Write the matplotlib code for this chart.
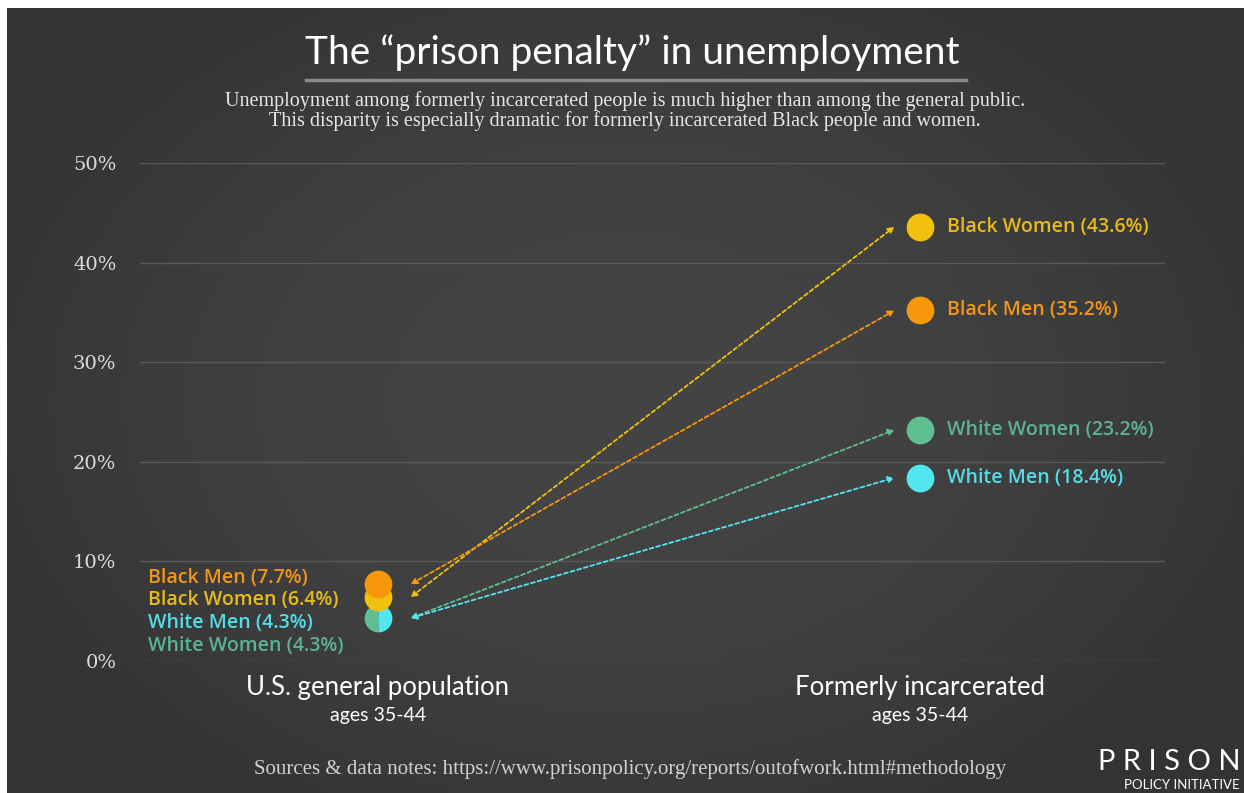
import numpy as np
import matplotlib
matplotlib.use("Agg")
import matplotlib.pyplot as plt
from matplotlib.transforms import blended_transform_factory

# data
groups = ["Black Women", "Black Men", "White Women", "White Men"]
general_pop = [6.4, 7.7, 4.3, 4.3]
formerly_inc = [43.6, 35.2, 23.2, 18.4]
colors = ["#f2c10f", "#f7970c", "#5fbf8f", "#52e6ef"]
text_colors = ["#e8bb1c", "#f0961a", "#5bb394", "#55dce6"]
left_order = ["Black Men", "Black Women", "White Men", "White Women"]
yticks = [0, 10, 20, 30, 40, 50]
cat_labels = ["U.S. general population", "Formerly incarcerated"]
sub_labels = ["ages 35-44", "ages 35-44"]

W, H = 1244, 793
fig = plt.figure(figsize=(W / 100, H / 100), dpi=100, facecolor="white")

def fx(x):
    return x / W

def fy(y):
    return 1 - y / H

# dark background with a soft vignette
bg = fig.add_axes([fx(7), 0, 1 - fx(7), 1 - 8 / H], zorder=-5)
gx, gy = np.meshgrid(np.linspace(-1, 1, 300), np.linspace(-1, 1, 200))
r = np.clip(np.sqrt((gx * 0.9) ** 2 + (gy * 0.8) ** 2), 0, 1)
c0 = np.array([0x44, 0x44, 0x44]) / 255
c1 = np.array([0x33, 0x33, 0x33]) / 255
img = c0[None, None, :] * (1 - r[..., None] ** 2) + c1[None, None, :] * r[..., None] ** 2
bg.imshow(img, aspect="auto", extent=[0, 1, 0, 1])
bg.axis("off")

# main axes
ax = fig.add_axes([fx(140), fy(661), fx(1165 - 140), (661 - 163) / H])
ax.patch.set_alpha(0)
ax.set_xlim(-0.439, 1.452)
ax.set_ylim(0, 50)
for s in ax.spines.values():
    s.set_visible(False)
ax.set_yticks(yticks)
ax.set_yticklabels([f"{t}%" for t in yticks], family="DejaVu Serif",
                   fontsize=14, color="#dcdcdc")
ax.tick_params(axis="y", length=0, pad=17)
ax.set_xticks([])
ax.yaxis.grid(True, color="#5a5a5a", lw=1)
ax.set_axisbelow(True)

# arrows
xl, xr = 0.06, 0.953
for g, a, b, c in zip(groups, general_pop, formerly_inc, colors):
    ax.annotate("", xy=(xr, b), xytext=(xl, a),
                arrowprops=dict(arrowstyle="<|-|>", color=c, lw=1.3,
                                linestyle=(0, (2.2, 1.6)), mutation_scale=9,
                                shrinkA=0, shrinkB=0))

# right dots and labels
for g, b, c, tc in zip(groups, formerly_inc, colors, text_colors):
    ax.plot(1, b, "o", ms=20, color=c, mec="none", zorder=5)
    ax.text(1.05, b, f"{g} ({b}%)", color=tc, fontsize=14, weight="semibold",
            family="Open Sans", va="center", ha="left", zorder=6)

# left dots
idx = {g: i for i, g in enumerate(groups)}
ax.plot(0, general_pop[idx["White Women"]], "o", ms=20, fillstyle="left",
        markerfacecolor=colors[idx["White Women"]],
        markerfacecoloralt=colors[idx["White Men"]], mec="none", zorder=5)
ax.plot(0, general_pop[idx["Black Women"]], "o", ms=20,
        color=colors[idx["Black Women"]], mec="none", zorder=6)
ax.plot(0, general_pop[idx["Black Men"]], "o", ms=20,
        color=colors[idx["Black Men"]], mec="none", zorder=7)

# left labels stacked
for k, g in enumerate(left_order):
    i = idx[g]
    fig.text(fx(148), fy(578 + 22.5 * k), f"{g} ({general_pop[i]}%)",
             color=text_colors[i], fontsize=14, weight="semibold",
             family="Open Sans", va="center", ha="left")

# category labels
tr = blended_transform_factory(ax.transData, fig.transFigure)
for x, lab, sub in zip([0, 1], cat_labels, sub_labels):
    ax.text(x, fy(687), lab, transform=tr, ha="center", va="center",
            color="white", fontsize=18.5, family="Lato")
    ax.text(x, fy(716), sub, transform=tr, ha="center", va="center",
            color="white", fontsize=14, family="Lato")

# title block
fig.text(fx(632), fy(53), "The \u201cprison penalty\u201d in unemployment",
         ha="center", va="center", color="white", fontsize=28, family="Lato")
fig.add_artist(plt.Line2D([fx(306), fx(966)], [fy(80), fy(80)],
                          color="#8a8a8a", lw=2.5))
fig.text(fx(625), fy(101),
         "Unemployment among formerly incarcerated people is much higher than among the general public.",
         ha="center", va="center", color="#e6e6e6", fontsize=14.5,
         family="Liberation Serif")
fig.text(fx(625), fy(121),
         "This disparity is especially dramatic for formerly incarcerated Black people and women.",
         ha="center", va="center", color="#e6e6e6", fontsize=14.5,
         family="Liberation Serif")

# footer
fig.text(fx(630), fy(769),
         "Sources & data notes: https://www.prisonpolicy.org/reports/outofwork.html#methodology",
         ha="center", va="center", color="#d0d0d0", fontsize=15,
         family="Liberation Serif")
fig.text(fx(1240), fy(762), "P R I S O N", ha="right", va="center",
         color="white", fontsize=21, family="Lato")
fig.text(fx(1240), fy(785), "POLICY INITIATIVE", ha="right", va="center",
         color="white", fontsize=9.5, family="Lato")

fig.savefig("out.png", dpi=100)
